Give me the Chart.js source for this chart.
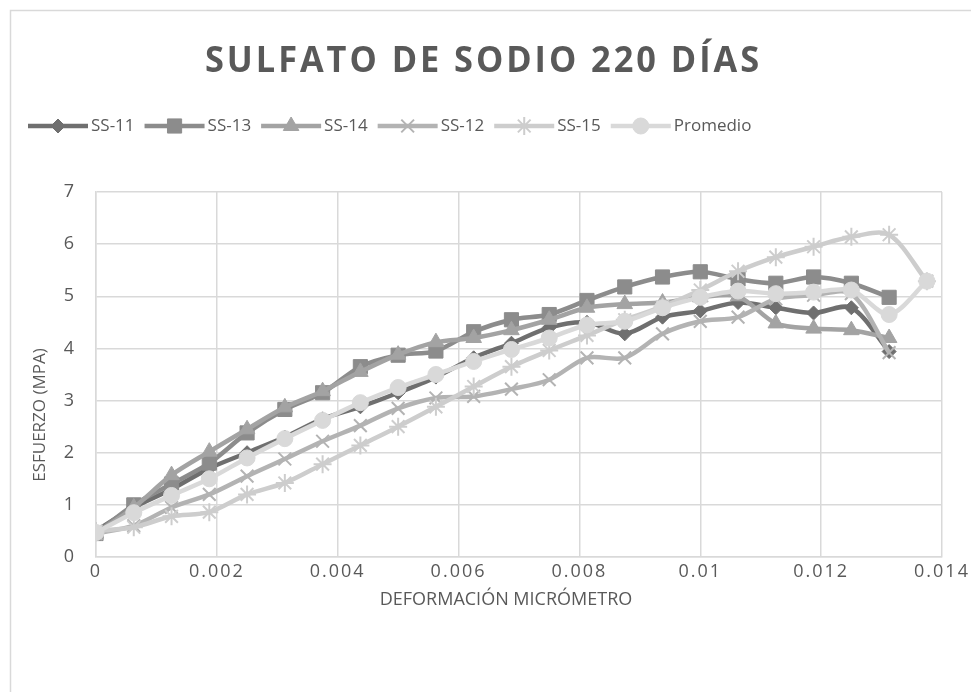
<!DOCTYPE html>
<html>
<head>
<meta charset="utf-8">
<script src="https://cdn.jsdelivr.net/npm/chart.js@4.4.1/dist/chart.umd.min.js"></script>
<style>
  html, body { margin: 0; background: #fff; }
  #wrap { width: 971px; height: 692px; }
</style>
</head>
<body>
<div id="wrap"><canvas id="grafico" width="971" height="692"></canvas></div>
<script>
// deformación (micrómetro) de cada lectura
const deformacion = [0, 0.000625, 0.00125, 0.001875, 0.0025, 0.003125, 0.00375, 0.004375, 0.005,
    0.005625, 0.00625, 0.006875, 0.0075, 0.008125, 0.00875, 0.009375, 0.01, 0.010625, 0.01125,
    0.011875, 0.0125, 0.013125, 0.01375];

// esfuerzo (MPa) por probeta
const ss11 = [0.5, 0.95, 1.3, 1.7, 2.0, 2.3, 2.65, 2.88, 3.15, 3.45, 3.82, 4.1, 4.4, 4.5, 4.28,
    4.6, 4.72, 4.88, 4.78, 4.68, 4.78, 3.94];
const ss13 = [0.45, 1.0, 1.4, 1.8, 2.38, 2.83, 3.15, 3.65, 3.87, 3.95, 4.32, 4.55, 4.65, 4.92,
    5.18, 5.37, 5.47, 5.33, 5.25, 5.37, 5.25, 4.98];
const ss14 = [0.45, 0.95, 1.57, 2.02, 2.45, 2.87, 3.18, 3.55, 3.88, 4.12, 4.2, 4.35, 4.55, 4.78,
    4.85, 4.88, 4.98, 5.0, 4.48, 4.38, 4.35, 4.2];
const ss12 = [0.45, 0.6, 0.95, 1.2, 1.55, 1.88, 2.22, 2.52, 2.85, 3.05, 3.08, 3.22, 3.4, 3.82,
    3.82, 4.28, 4.52, 4.6, 4.95, 5.02, 5.05, 3.92];
const ss15 = [0.5, 0.57, 0.78, 0.86, 1.2, 1.42, 1.78, 2.14, 2.5, 2.88, 3.27, 3.65, 3.96, 4.25,
    4.55, 4.8, 5.12, 5.48, 5.75, 5.95, 6.14, 6.18, 5.29];
const promedio = [0.47, 0.85, 1.18, 1.5, 1.9, 2.27, 2.62, 2.96, 3.25, 3.5, 3.75, 3.98, 4.2, 4.45,
    4.52, 4.78, 4.98, 5.1, 5.05, 5.08, 5.12, 4.65, 5.29];

const nombres = ['SS-11', 'SS-13', 'SS-14', 'SS-12', 'SS-15', 'Promedio'];
const colores = ['#6f6f6f', '#8c8c8c', '#a3a3a3', '#b3b3b3', '#cdcdcd', '#d9d9d9'];
const marcadores = ['rectRot', 'rect', 'triangle', 'crossRot', 'star', 'circle'];
const radios = [7, 10, 9, 9, 9, 8];

const xTicks = [0, 0.002, 0.004, 0.006, 0.008, 0.01, 0.012, 0.014];
const yTicks = [0, 1, 2, 3, 4, 5, 6, 7];

const TEXTO = '#595959';
const REJILLA = '#d9d9d9';
const FUENTE = '"Open Sans", sans-serif';

// eje lineal que separa las letras de sus etiquetas
class SpacedLinearScale extends Chart.LinearScale {
    drawLabels(chartArea) {
        const ctx = this.ctx;
        ctx.save();
        ctx.letterSpacing = '2px';
        super.drawLabels(chartArea);
        ctx.restore();
    }
}
SpacedLinearScale.id = 'spacedLinear';
SpacedLinearScale.defaults = Chart.LinearScale.defaults;
Chart.register(SpacedLinearScale);

const series = [ss11, ss13, ss14, ss12, ss15, promedio];
const datasets = series.map((valores, i) => ({
    label: nombres[i],
    data: valores.map((y, k) => ({ x: deformacion[k], y: y })),
    borderColor: colores[i],
    backgroundColor: colores[i],
    borderWidth: 4.5,
    pointStyle: marcadores[i],
    pointRadius: radios[i],
    pointBorderColor: colores[i],
    pointBackgroundColor: colores[i],
    pointBorderWidth: marcadores[i] === 'crossRot' || marcadores[i] === 'star' ? 2 : 1,
    tension: 0.3,
    order: series.length - i
}));

const decoracion = {
    id: 'decoracion',
    beforeDraw(chart) {
        const ctx = chart.ctx;
        ctx.save();
        ctx.fillStyle = '#fff';
        ctx.fillRect(0, 0, chart.width, chart.height);
        ctx.strokeStyle = REJILLA;
        ctx.lineWidth = 1.5;
        ctx.strokeRect(10.5, 10.5, chart.width + 20, chart.height + 20);
        ctx.restore();
    },
    afterDraw(chart) {
        const ctx = chart.ctx;
        ctx.save();

        // título
        ctx.fillStyle = TEXTO;
        ctx.font = 'bold 35px ' + FUENTE;
        ctx.letterSpacing = '3px';
        ctx.textBaseline = 'middle';
        ctx.textAlign = 'left';
        const titulo = 'SULFATO DE SODIO 220 DÍAS';
        const w = ctx.measureText(titulo).width;
        const escala = 557 / w;
        ctx.save();
        ctx.translate(205, 62);
        ctx.scale(escala, 1);
        ctx.fillText(titulo, 0, 0);
        ctx.restore();
        ctx.letterSpacing = '0px';

        // leyenda
        ctx.font = '17px ' + FUENTE;
        let x = 28;
        const yl = 126;
        chart.data.datasets.forEach((ds, i) => {
            ctx.strokeStyle = ds.borderColor;
            ctx.lineWidth = 4.5;
            ctx.beginPath();
            ctx.moveTo(x, yl);
            ctx.lineTo(x + 60, yl);
            ctx.stroke();
            ctx.fillStyle = ds.backgroundColor;
            ctx.strokeStyle = ds.borderColor;
            ctx.lineWidth = ds.pointBorderWidth;
            Chart.helpers.drawPoint(ctx, { pointStyle: ds.pointStyle, radius: ds.pointRadius, borderWidth: ds.pointBorderWidth, rotation: 0 }, x + 30, yl);
            ctx.fillStyle = TEXTO;
            ctx.fillText(ds.label, x + 63, yl);
            x += 63 + ctx.measureText(ds.label).width + 10;
        });

        // títulos de ejes
        ctx.font = '18px ' + FUENTE;
        ctx.textAlign = 'center';
        ctx.fillText('DEFORMACIÓN MICRÓMETRO', 506, 600);
        ctx.font = '17px ' + FUENTE;
        ctx.translate(40, 415);
        ctx.rotate(-Math.PI / 2);
        ctx.fillText('ESFUERZO (MPA)', 0, 0);
        ctx.restore();
    }
};

new Chart(document.getElementById('grafico'), {
    type: 'line',
    data: { datasets: datasets },
    options: {
        responsive: false,
        animation: false,
        layout: { padding: { left: 0, top: 192, right: 29, bottom: 99 } },
        plugins: {
            legend: { display: false },
            title: { display: false },
            tooltip: { enabled: false }
        },
        scales: {
            x: {
                type: 'spacedLinear',
                min: 0,
                max: 0.014,
                afterBuildTicks: scale => { scale.ticks = xTicks.map(v => ({ value: v })); },
                afterFit: scale => { scale.height = 36; },
                grid: { color: REJILLA, lineWidth: 1.5, drawTicks: false },
                border: { color: REJILLA, width: 1.5 },
                ticks: {
                    color: TEXTO,
                    font: { family: FUENTE, size: 18 },
                    padding: 4,
                    maxRotation: 0,
                    callback: v => String(+v.toFixed(3))
                }
            },
            y: {
                min: 0,
                max: 7,
                afterBuildTicks: scale => { scale.ticks = yTicks.map(v => ({ value: v })); },
                afterFit: scale => { scale.width = 96; },
                grid: { color: REJILLA, lineWidth: 1.5, drawTicks: false },
                border: { color: REJILLA, width: 1.5 },
                ticks: {
                    color: TEXTO,
                    font: { family: FUENTE, size: 18 },
                    padding: 22
                }
            }
        }
    },
    plugins: [decoracion]
});
</script>
</body>
</html>
